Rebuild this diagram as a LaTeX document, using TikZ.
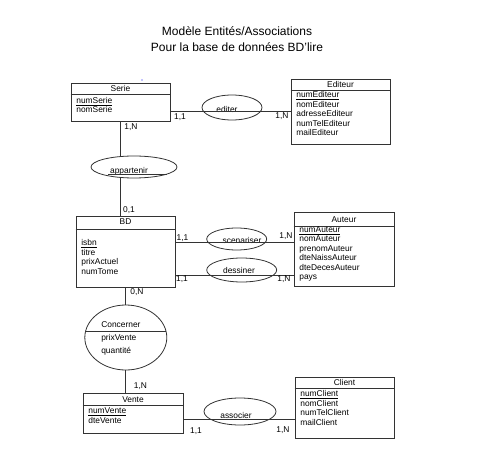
\documentclass[tikz,border=0pt]{standalone}
\usepackage{fontspec}
\setmainfont{Liberation Sans}
\usetikzlibrary{positioning,fit,calc,shapes}

% entity box: name, corner, corner, title, title base, rule, first field base, fields
\newcommand\entite[8]{%
  \node[entity, fit={#2 #3}] (#1) {};
  \node[head] (#1-t) at ($(#1.north)+(0,#5)$) {#4};
  \draw[link] ($(#1.north west)+(0,#6)$) -- ($(#1.north east)+(0,#6)$);
  \foreach \f [count=\i from 0] in {#8}
    \node[field] (#1-\i) at ($(#1.north west)+(5.5,{#7+9.5*\i})$) {\f};
}

\begin{document}
\begin{tikzpicture}[x=0.75pt, y=-0.75pt,
    txt/.style={font=\fontsize{6.3}{7}\selectfont, inner sep=0pt},
    entity/.style={draw=black!80, line width=0.6pt, rectangle, inner sep=0pt},
    head/.style={txt, anchor=base},
    field/.style={txt, anchor=base west},
    assoc/.style={draw=black!80, line width=0.6pt, ellipse, inner sep=0pt},
    link/.style={draw=black!80, line width=0.6pt},
    card/.style={txt},
    title/.style={font=\fontsize{9}{11}\selectfont, inner sep=0pt}]
    \useasboundingbox (0,0) rectangle (477,470);

    \node[title] (titre1) at (237,31) {Modèle Entités/Associations};
    \node[title] (titre2) at (237,47) {Pour la base de données BD'lire};
    \fill[blue] (142,80) circle (0.7);

    % entities
    \entite{serie}{(71,83)}{(170,121)}{Serie}{8.5}{11.5}{20.5}{\underline{numSerie},nomSerie}
    \entite{editeur}{(291,79)}{(390,144)}{Editeur}{9}{12}{19}{\underline{numEditeur},nomEditeur,adresseEditeur,numTelEditeur,mailEditeur}
    \entite{bd}{(76,216)}{(175,287)}{BD}{9}{13.5}{30}{\underline{isbn},titre,prixActuel,numTome}
    \entite{auteur}{(294,212)}{(394,286)}{Auteur}{10.5}{15}{20.8}{\underline{numAuteur},nomAuteur,prenomAuteur,dteNaissAuteur,dteDecesAuteur,pays}
    \entite{vente}{(83,393)}{(183,433)}{Vente}{10}{13}{21}{\underline{numVente},dteVente}
    \entite{client}{(295,377)}{(394,438)}{Client}{8.5}{11.5}{20}{\underline{numClient},nomClient,numTelClient,mailClient}

    % associations
    \node[assoc, minimum width=45pt, minimum height=18.75pt] (editer) at (232,107.5) {};
    \node[assoc, minimum width=64.5pt, minimum height=16.5pt] (appartenir) at (134,167) {};
    \node[assoc, minimum width=45pt, minimum height=16.5pt] (scenariser) at (236.7,239) {};
    \node[assoc, minimum width=52.5pt, minimum height=18pt] (dessiner) at (241.7,270) {};
    \node[assoc, minimum width=61.5pt, minimum height=48.75pt] (concerner) at (125.8,337.5) {};
    \node[assoc, minimum width=54pt, minimum height=20.25pt] (associer) at (240,411.5) {};

    \node[txt] (editer-t) at (227,109) {editer};
    \node[txt] (appartenir-t) at (129,171) {appartenir};
    \node[txt] (scenariser-t) at (242,240) {scenariser};
    \node[txt] (dessiner-t) at (239,270) {dessiner};
    \node[txt] (associer-t) at (236,415) {associer};
    \node[txt, anchor=west] (concerner-t) at (101,325) {Concerner};
    \node[txt, anchor=west] (concerner-0) at (101,338.3) {prixVente};
    \node[txt, anchor=west] (concerner-1) at (101,351) {quantité};
    \draw[link] ($(appartenir.center)+(-26,7)$) -- ($(appartenir.center)+(33,7)$);
    \draw[link] ($(concerner.center)+(-40.3,-5.8)$) -- ($(concerner.center)+(40.3,-5.8)$);

    % links
    \draw[link] (serie.east |- 0,111.7) -- (editeur.west |- 0,111.7);
    \draw[link] (serie.south) -- (serie.south |- appartenir.north);
    \draw[link] (serie.south |- appartenir.south) -- (serie.south |- bd.north);
    \draw[link] (bd.east |- 0,242.7) -- (auteur.west |- 0,242.7);
    \draw[link] (bd.east |- 0,275) -- (auteur.west |- 0,275);
    \draw[link] (concerner.north |- bd.south) -- (concerner.north);
    \draw[link] (concerner.south) -- (concerner.south |- vente.north);
    \draw[link] (vente.east |- 0,419) -- (client.west |- 0,419);

    % cardinalities
    \node[card] (c-se1) at (180,117) {1,1};
    \node[card] (c-ed1) at (282,116.5) {1,N};
    \node[card] (c-se2) at (131,127.5) {1,N};
    \node[card] (c-bd1) at (129,210) {0,1};
    \node[card] (c-bd2) at (182.5,238) {1,1};
    \node[card] (c-au1) at (286,236) {1,N};
    \node[card] (c-bd3) at (182,279.5) {1,1};
    \node[card] (c-au2) at (284,279.5) {1,N};
    \node[card] (c-bd4) at (137,292.5) {0,N};
    \node[card] (c-ve1) at (140.5,386) {1,N};
    \node[card] (c-ve2) at (196,431) {1,1};
    \node[card] (c-cl1) at (283,430) {1,N};
\end{tikzpicture}
\end{document}
